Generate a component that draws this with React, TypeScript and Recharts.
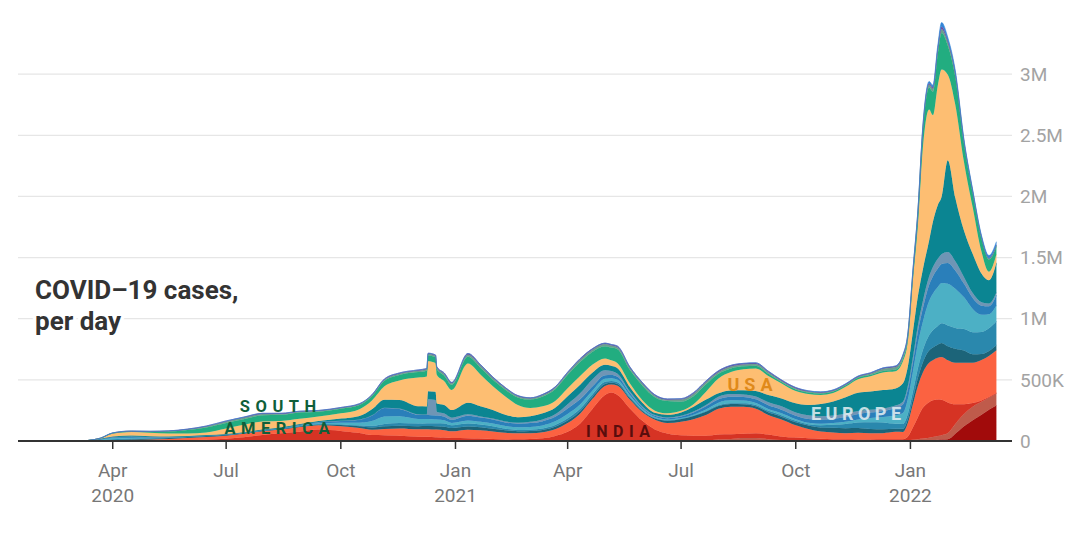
import React from "react";
import { AreaChart, Area, XAxis, YAxis, CartesianGrid } from "recharts";

// day offsets from 1 Apr 2020
const days = [-20, -10, 0, 15, 30, 45, 60, 75, 91, 105, 120, 135, 150, 165, 183, 198, 208, 218, 230, 245, 252, 253, 259, 260, 266, 272, 285, 295, 305, 315, 325, 335, 345, 355, 365, 375, 385, 395, 400, 405, 415, 425, 435, 445, 456, 466, 476, 486, 496, 506, 516, 526, 536, 548, 558, 568, 578, 588, 598, 608, 618, 628, 634, 638, 642, 646, 650, 655, 658, 662, 665, 670, 676, 683, 690, 697, 703, 709];

// daily cases, thousands
const korea = [0, 0.5, 0.1, 0.05, 0.01, 0.02, 0.04, 0.05, 0.05, 0.05, 0.04, 0.05, 0.3, 0.1, 0.1, 0.1, 0.1, 0.1, 0.2, 0.4, 0.6, 0.6, 0.7, 0.7, 1, 1, 1, 0.5, 0.4, 0.4, 0.4, 0.4, 0.4, 0.4, 0.5, 0.6, 0.6, 0.6, 0.6, 0.6, 0.6, 0.6, 0.5, 0.5, 0.7, 1, 1.4, 1.5, 1.7, 1.8, 1.7, 1.8, 2.3, 2.3, 2, 1.6, 2, 2, 3, 3.5, 6, 6, 5, 5, 5, 5, 6, 7, 8, 10, 12, 15, 60, 120, 170, 215, 255, 290];
const japan = [0, 0.2, 0.3, 0.5, 0.3, 0.1, 0.05, 0.1, 0.2, 0.6, 1, 1, 0.7, 0.6, 0.6, 0.6, 0.6, 0.8, 1.5, 2, 2.5, 2.5, 2.7, 2.7, 3, 3.5, 6, 5, 3, 1.5, 1.2, 1, 1, 1.5, 2.5, 3, 4, 5, 6, 6, 6, 4, 2.5, 1.8, 1.8, 2.5, 4, 10, 14, 22, 22, 13, 5, 1.5, 0.8, 0.4, 0.3, 0.2, 0.1, 0.1, 0.1, 0.3, 0.4, 2, 5, 10, 15, 20, 25, 30, 35, 50, 80, 100, 110, 105, 100, 98];
const india = [0, 0.1, 0.3, 1, 1.8, 4, 7.5, 11, 18, 30, 48, 62, 75, 93, 82, 65, 48, 47, 42, 33, 31, 31, 28, 28, 24, 20, 16, 14, 13, 11, 12, 15, 21, 40, 72, 140, 260, 370, 390, 370, 260, 160, 92, 60, 45, 40, 38, 42, 40, 36, 40, 38, 30, 24, 20, 16, 13, 12, 10, 9, 8, 9, 9, 30, 100, 180, 250, 290, 300, 300, 290, 250, 160, 80, 30, 12, 5, 5];
const restOfAsia = [1, 2, 5, 8, 10, 12, 16, 22, 25, 28, 30, 30, 38, 35, 38, 40, 44, 50, 58, 60, 62, 62, 62, 62, 60, 55, 70, 68, 62, 55, 50, 48, 50, 55, 72, 80, 80, 75, 65, 75, 70, 70, 78, 85, 110, 135, 170, 210, 225, 220, 200, 160, 140, 100, 75, 60, 55, 50, 55, 50, 50, 60, 60, 113, 190, 255, 289, 323, 327, 340, 350, 345, 340, 340, 330, 330, 335, 350];
const russia = [0, 1, 1, 3, 6, 9, 9, 8, 7, 6, 5.5, 5, 5, 6, 10, 14, 18, 22, 24, 25, 26, 26, 27, 27, 28, 26, 25, 24, 22, 19, 17, 18, 18, 19, 20, 20, 18, 15, 14, 14, 12, 10, 10, 18, 22, 25, 25, 22, 22, 21, 20, 22, 24, 25, 28, 33, 38, 40, 38, 35, 32, 25, 25, 30, 45, 65, 85, 100, 105, 110, 115, 115, 115, 100, 70, 50, 42, 40];
const germany = [1, 4, 8, 7, 4, 2, 1, 1, 1, 1, 1, 1.5, 1.5, 1.5, 4, 7, 14, 20, 22, 22, 24, 24, 25, 25, 28, 24, 25, 23, 20, 14, 10, 10, 12, 15, 19, 20, 20, 18, 16, 15, 11, 7, 5, 4, 3, 4, 5, 6, 6, 8, 10, 12, 12, 12, 12, 18, 25, 35, 45, 55, 55, 40, 40, 45, 60, 80, 100, 125, 140, 150, 160, 170, 170, 175, 180, 180, 185, 196];
const france = [1, 4, 9, 8, 4, 2, 1.5, 1.5, 1.5, 1, 1.5, 3, 5, 8, 14, 22, 38, 60, 55, 38, 34, 34, 31, 31, 25, 18, 25, 22, 23, 21, 21, 23, 25, 30, 35, 35, 30, 25, 22, 20, 15, 10, 8, 7, 6, 8, 15, 22, 24, 22, 18, 15, 15, 14, 12, 13, 14, 18, 25, 35, 45, 70, 90, 120, 160, 200, 230, 280, 300, 320, 330, 340, 320, 260, 190, 140, 115, 130];
const southernEurope = [1, 4, 7, 6, 4, 2, 1.5, 1, 1.5, 1.5, 2, 3, 6, 9, 15, 25, 45, 70, 60, 35, 33, 33, 32, 32, 30, 25, 38, 35, 33, 30, 30, 32, 35, 37, 45, 42, 35, 30, 27, 25, 18, 13, 10, 10, 12, 18, 25, 28, 29, 30, 30, 30, 30, 28, 30, 32, 35, 40, 45, 45, 50, 60, 70, 80, 80, 100, 110, 130, 140, 150, 155, 170, 150, 110, 90, 75, 65, 85];
const turkey = [0, 0.3, 1, 4, 2.5, 1.7, 1, 1.2, 1.2, 1, 1, 1.2, 1.5, 1.7, 1.6, 1.7, 2, 2.5, 3, 3, 3, 128, 126, 30, 25, 18, 12, 8, 7, 7, 8, 10, 14, 20, 35, 50, 58, 40, 32, 25, 12, 8, 6, 6, 5, 7, 10, 20, 22, 20, 22, 25, 27, 27, 30, 28, 26, 26, 24, 22, 20, 20, 22, 28, 40, 50, 60, 70, 75, 80, 80, 90, 75, 55, 40, 28, 22, 20];
const ukAndOthers = [0, 2, 5, 8, 7, 5, 3, 2.5, 2, 3, 4, 5, 6, 8, 18, 30, 50, 65, 70, 65, 66, 66, 68, 68, 70, 62, 95, 85, 70, 55, 45, 45, 50, 55, 65, 70, 55, 45, 42, 45, 35, 30, 18, 22, 28, 40, 45, 30, 30, 35, 45, 60, 65, 75, 85, 100, 115, 135, 150, 150, 150, 140, 150, 160, 210, 240, 260, 295, 370, 440, 470, 750, 520, 380, 320, 235, 190, 243];
const usa = [0, 4, 25, 29, 28, 23, 21, 22, 45, 60, 66, 52, 42, 37, 43, 55, 72, 110, 160, 235, 245, 245, 235, 235, 195, 165, 320, 260, 195, 150, 100, 68, 57, 55, 65, 70, 65, 52, 45, 40, 30, 20, 18, 12, 13, 20, 65, 120, 150, 170, 185, 155, 125, 100, 90, 75, 70, 85, 110, 125, 145, 140, 180, 210, 423, 582, 995, 1070, 875, 980, 1040, 700, 760, 560, 380, 180, 70, 70];
const southAmerica = [0, 0.5, 2, 4, 8, 17, 28, 40, 45, 45, 50, 50, 52, 40, 38, 35, 35, 45, 45, 45, 48, 48, 47, 47, 45, 42, 55, 55, 53, 55, 62, 68, 80, 95, 110, 115, 105, 100, 105, 115, 110, 120, 110, 100, 75, 65, 60, 38, 30, 25, 22, 18, 12, 13, 12, 11, 11, 12, 13, 12, 12, 15, 22, 30, 45, 85, 140, 180, 190, 260, 300, 240, 230, 150, 115, 105, 100, 65];
const africa = [0, 0.3, 1.5, 2, 2.5, 3, 5, 8, 11, 12, 10, 8, 7, 6, 6, 6, 7, 9, 10, 11, 11, 11, 12, 12, 14, 13, 18, 17, 14, 12, 10, 10, 12, 13, 15, 18, 17, 17, 17, 17, 17, 17, 13, 12, 17, 21, 19, 15, 15, 14, 13, 12, 8, 8, 7, 6, 6, 5, 6, 10, 18, 20, 22, 22, 22, 22, 22, 25, 25, 30, 30, 25, 20, 15, 12, 10, 8, 8];
const otherCountries = [0, 0.2, 1, 1, 1.5, 2, 3, 4, 6, 6, 6, 5, 4, 4, 4, 4, 5, 6, 6, 7, 7, 7, 7, 7, 8, 7, 10, 9, 8, 6, 5, 5, 6, 7, 7, 10, 8, 8, 8, 8, 8, 8, 7, 6, 8, 9, 9, 10, 10, 10, 10, 9, 7, 7, 6, 6, 6, 6, 6, 6, 6, 7, 8, 7, 7, 7, 8, 10, 12, 15, 20, 15, 10, 7, 6, 5, 5, 5];
const oceania = [0, 0.1, 0.5, 0.3, 0.1, 0, 0, 0, 0.1, 0.3, 0.4, 0.2, 0.1, 0, 0, 0, 0, 0, 0, 0, 0, 0, 0, 0, 0, 0, 0.1, 0.1, 0, 0, 0, 0, 0, 0, 0, 0, 0, 0, 0, 0, 0, 0, 0, 0, 0, 0, 0.1, 0.2, 0.3, 0.3, 0.3, 0.5, 1, 1.5, 1.5, 2, 2, 2, 1.5, 1, 1, 2, 3, 4, 8, 9, 10, 15, 18, 22, 35, 25, 20, 12, 10, 12, 20, 25];

const SERIES = [
  { key: "korea", color: "#a10b0b", values: korea },
  { key: "japan", color: "#bf5b4b", values: japan },
  { key: "india", color: "#d63324", values: india },
  { key: "restOfAsia", color: "#fb6241", values: restOfAsia },
  { key: "russia", color: "#1c6479", values: russia },
  { key: "germany", color: "#2a88ad", values: germany },
  { key: "france", color: "#4cb0c5", values: france },
  { key: "southernEurope", color: "#2a7fba", values: southernEurope },
  { key: "turkey", color: "#6f95b5", values: turkey },
  { key: "ukAndOthers", color: "#0b8592", values: ukAndOthers },
  { key: "usa", color: "#fdbe72", values: usa },
  { key: "southAmerica", color: "#22ad80", values: southAmerica },
  { key: "africa", color: "#69a08e", values: africa },
  { key: "otherCountries", color: "#6b50a3", values: otherCountries },
  { key: "oceania", color: "#3385d6", values: oceania },
];

const data = days.map((d, i) => {
  const row: Record<string, number> = { d };
  SERIES.forEach((s) => {
    row[s.key] = s.values[i] * 1000;
  });
  return row;
});

const xTicks = [0, 91, 183, 275, 365, 456, 548, 640];
const xTickMonths = ["Apr", "Jul", "Oct", "Jan", "Apr", "Jul", "Oct", "Jan"];
const xTickYears = ["2020", "", "", "2021", "", "", "", "2022"];
const yTicks = [0, 500000, 1000000, 1500000, 2000000, 2500000, 3000000];
const yTickLabels = ["0", "500K", "1M", "1.5M", "2M", "2.5M", "3M"];

const XTick = (props: any) => {
  const { x, y, payload } = props;
  const i = xTicks.indexOf(payload.value);
  if (i < 0) return null;
  return (
    <g>
      <text x={x} y={y + 26} textAnchor="middle" fill="#777" fontSize={19}>
        {xTickMonths[i]}
      </text>
      {xTickYears[i] ? (
        <text x={x} y={y + 51} textAnchor="middle" fill="#777" fontSize={19}>
          {xTickYears[i]}
        </text>
      ) : null}
    </g>
  );
};

const Label = ({ x, y, text, color, size, spacing, opacity = 1 }: any) => (
  <text
    x={x + spacing / 2}
    y={y}
    textAnchor="middle"
    fill={color}
    fontSize={size}
    fontWeight={700}
    letterSpacing={spacing}
    opacity={opacity}
  >
    {text}
  </text>
);

export default function App() {
  return (
    <div
      style={{
        position: "absolute",
        left: 0,
        top: 0,
        width: 1080,
        height: 533,
        background: "#fff",
        fontFamily: "Roboto, 'Noto Sans', sans-serif",
      }}
    >
      <AreaChart
        width={1080}
        height={533}
        data={data}
        margin={{ top: 13, right: 0, bottom: 0, left: 18 }}
      >
        <CartesianGrid
          vertical={false}
          horizontalValues={[500000, 1000000, 1500000, 2000000, 2500000, 3000000]}
          stroke="#e6e6e6"
          strokeWidth={1.2}
        />
        <XAxis
          dataKey="d"
          type="number"
          domain={[-76, 721.5]}
          allowDataOverflow
          ticks={xTicks}
          interval={0}
          height={92}
          tick={<XTick />}
          tickSize={8}
          axisLine={{ stroke: "#333", strokeWidth: 2 }}
          tickLine={{ stroke: "#333", strokeWidth: 1.5 }}
        />
        <YAxis
          orientation="right"
          width={68}
          domain={[0, 3500000]}
          allowDataOverflow
          ticks={yTicks}
          interval={0}
          tickFormatter={(v: number) => yTickLabels[yTicks.indexOf(v)] ?? ""}
          tick={{ fill: "#a3a3a3", fontSize: 19 }}
          tickSize={0}
          tickMargin={8}
          axisLine={false}
          tickLine={false}
        />
        {SERIES.map((s) => (
          <Area
            key={s.key}
            dataKey={s.key}
            stackId="1"
            type="monotone"
            fill={s.color}
            fillOpacity={1}
            stroke={s.color}
            strokeWidth={0.6}
            isAnimationActive={false}
            dot={false}
            activeDot={false}
          />
        ))}
      </AreaChart>
      <svg
        width={1080}
        height={533}
        style={{ position: "absolute", left: 0, top: 0, pointerEvents: "none" }}
      >
        <g
          fontSize={26}
          fontWeight={700}
          fill="#333"
          stroke="#fff"
          strokeWidth={7}
          strokeLinejoin="round"
          style={{ paintOrder: "stroke" }}
        >
          <text x={35} y={299}>COVID–19 cases,</text>
          <text x={35} y={330}>per day</text>
        </g>
        <Label x={278} y={412} text="SOUTH" color="#0f5f3a" size={16.5} spacing={5.5} />
        <Label x={277} y={434} text="AMERICA" color="#0f5f3a" size={16.5} spacing={5.5} />
        <Label x={618} y={437} text="INDIA" color="#5a0d0d" size={16} spacing={5.5} />
        <Label x={750} y={391} text="USA" color="#e08a1a" size={18} spacing={5} />
        <Label x={856} y={420} text="EUROPE" color="#e4eff3" size={18} spacing={4.5} opacity={0.85} />
      </svg>
    </div>
  );
}
